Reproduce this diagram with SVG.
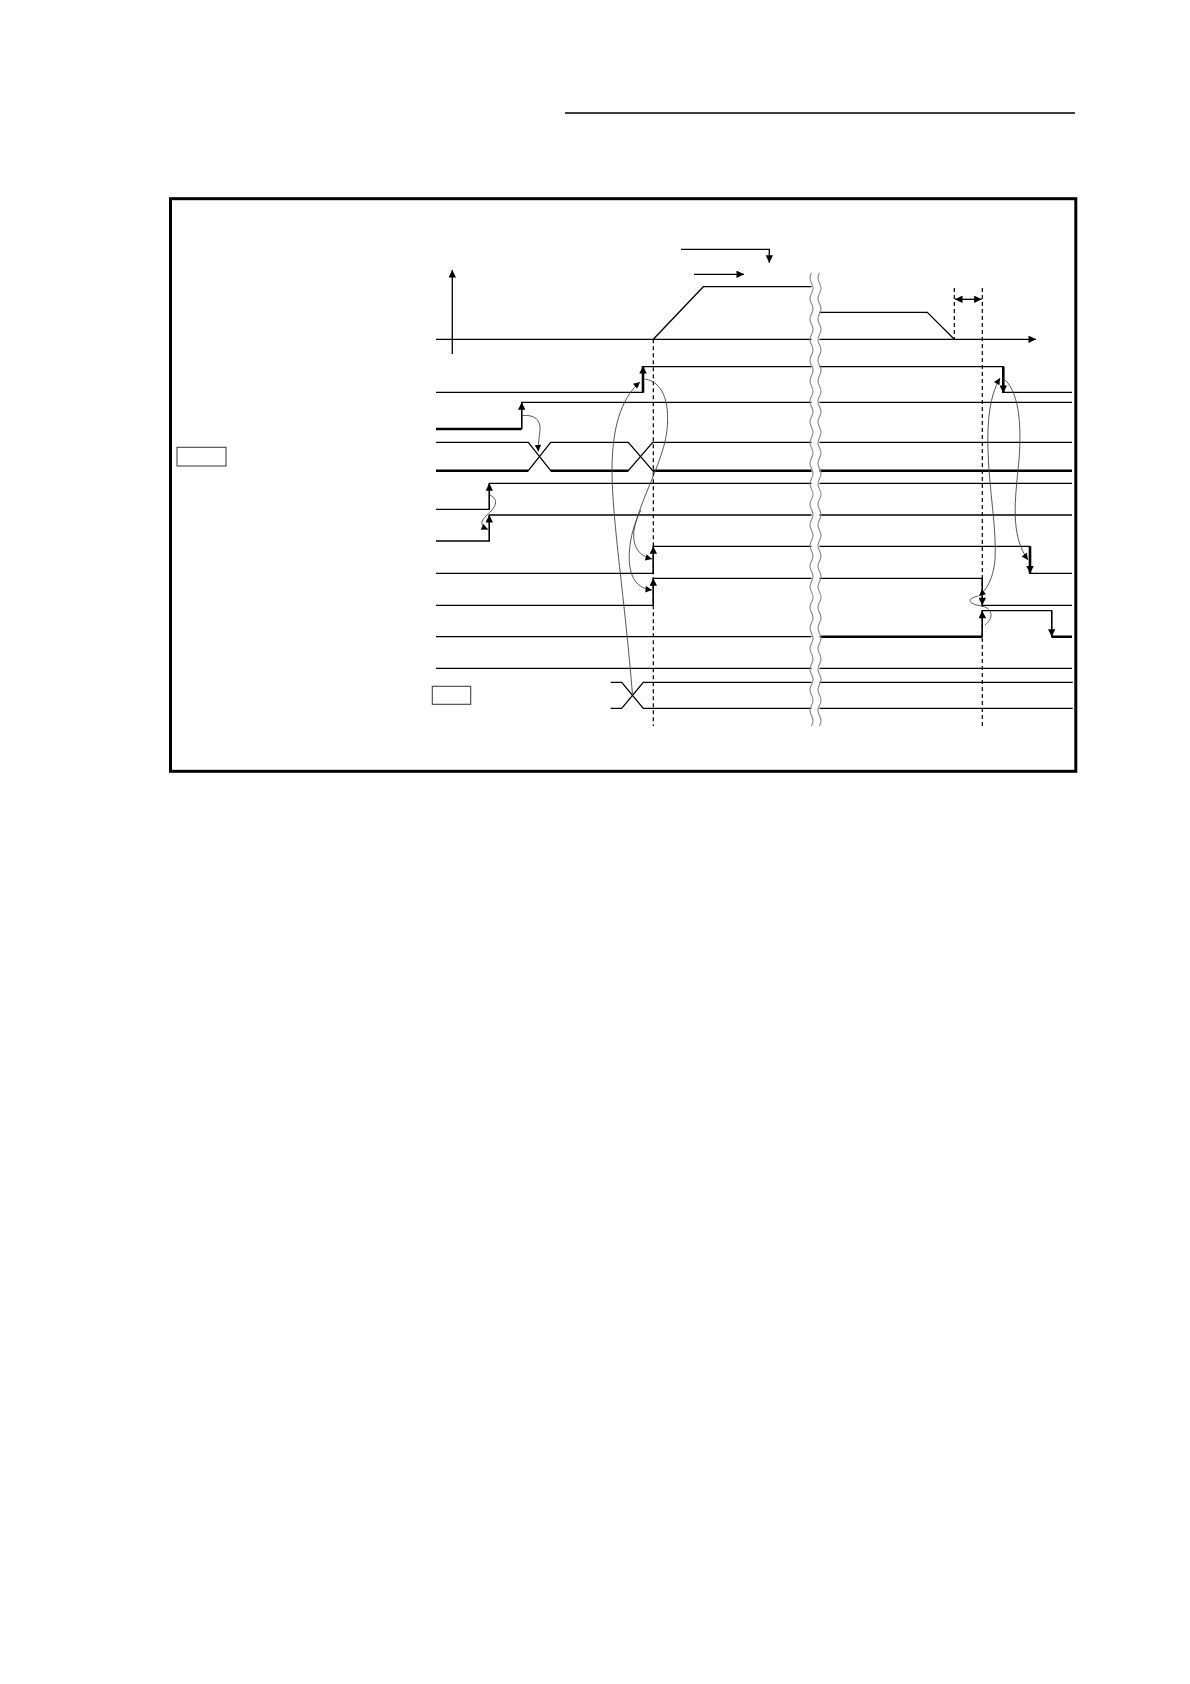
<svg xmlns="http://www.w3.org/2000/svg" xmlns:xlink="http://www.w3.org/1999/xlink" width="1190" height="1684" viewBox="0 0 1190 1684">
<style>
.sig{fill:none;stroke:#000;stroke-width:1.3}
.thk{fill:none;stroke:#000;stroke-width:2.6}
.ax{fill:none;stroke:#000;stroke-width:1.3}
.dash{fill:none;stroke:#000;stroke-width:1.2;stroke-dasharray:4 3}
.cur{fill:none;stroke:#444;stroke-width:0.9}
.wav{fill:none;stroke:#888;stroke-width:1.1}
.box{fill:#fff;stroke:#444;stroke-width:1.1}
</style>
<defs>
<marker id="ah" viewBox="0 0 10 10" refX="10" refY="5" markerWidth="10" markerHeight="7.5" markerUnits="userSpaceOnUse" orient="auto-start-reverse"><path d="M0,0 L10,5 L0,10 z" fill="#000"/></marker>
<marker id="ahs" viewBox="0 0 10 10" refX="10" refY="5" markerWidth="8" markerHeight="6.5" markerUnits="userSpaceOnUse" orient="auto-start-reverse"><path d="M0,0 L10,5 L0,10 z" fill="#000"/></marker>
<path id="wave" d="M0 272.7 q-3 5.15 0 10.3 t0 10.3 t0 10.3 t0 10.3 t0 10.3 t0 10.3 t0 10.3 t0 10.3 t0 10.3 t0 10.3 t0 10.3 t0 10.3 t0 10.3 t0 10.3 t0 10.3 t0 10.3 t0 10.3 t0 10.3 t0 10.3 t0 10.3 t0 10.3 t0 10.3 t0 10.3 t0 10.3 t0 10.3 t0 10.3 t0 10.3 t0 10.3 t0 10.3 t0 10.3 t0 10.3 t0 10.3 t0 10.3 t0 10.3 t0 10.3 t0 10.3 t0 10.3 t0 10.3 t0 10.3 t0 10.3 t0 10.3 t0 10.3 t0 10.3 t0 10.3"/>
</defs>
<rect width="1190" height="1684" fill="#fff"/>
<line id="header" x1="565" y1="113" x2="1075" y2="113" stroke="#000" stroke-width="1.3"/>
<rect id="frame" x="170.5" y="198.7" width="905.3" height="572.6" fill="none" stroke="#000" stroke-width="3"/>

<g id="speed">
<path class="ax" d="M452.3 354 V270" marker-end="url(#ah)"/>
<path class="ax" d="M436 339.3 H1036" marker-end="url(#ah)"/>
<polyline class="sig" points="653.3,339.3 703.3,286.7 812,286.7"/>
<polyline class="sig" points="819,312.3 927.3,312.3 954.3,339.3"/>
<path class="sig" d="M681 249.3 H769.3 V262.7" marker-end="url(#ah)"/>
<path class="sig" d="M694 274.3 H744" marker-end="url(#ah)"/>
<path class="sig" d="M955 299.3 H981.6" marker-start="url(#ah)" marker-end="url(#ah)"/>
</g>

<g id="guides">
<path class="dash" d="M653.3 339.3 V726"/>
<path class="dash" d="M954.3 288 V339.3"/>
<path class="dash" d="M982.3 288 V726"/>
</g>

<g id="rowA">
<path class="sig" d="M436 392.3 H643 V366.7 H1003.3 V392.3 H1072"/>
<path class="thk" d="M643 392.3 V366" marker-end="url(#ah)"/>
<path class="thk" d="M1003.3 366.7 V393" marker-end="url(#ah)"/>
</g>
<g id="rowB">
<path class="thk" d="M436 429 H521.7"/>
<path class="sig" d="M521.7 429 V402.3 H1072"/>
<path class="sig" d="M521.7 429 V402.3" marker-end="url(#ah)"/>
</g>
<g id="rowC">
<rect class="box" x="177" y="447.3" width="49" height="18.7"/>
<path class="sig" d="M436 442.3 H528.3 L550.7 470.7 H628.3 L652.7 442.3 H1072"/>
<path class="sig" d="M436 470.7 H528.3 L550.7 442.3 H628.3 L652.7 470.7 H1072"/>
<path class="thk" d="M436 470.7 H528.3 M550.7 470.7 H628.3 M652.7 470.7 H1072"/>
</g>
<g id="rowD">
<path class="sig" d="M436 509.3 H489.3 V483.3 H1072"/>
<path class="sig" d="M489.3 509.3 V483.3" marker-end="url(#ah)"/>
</g>
<g id="rowE">
<path class="sig" d="M436 541 H489.3 V515 H1072"/>
<path class="sig" d="M489.3 541 V515" marker-end="url(#ah)"/>
</g>
<g id="rowF">
<path class="sig" d="M436 573.3 H653.3 V546.3 H1030 V573.3 H1072"/>
<path class="sig" d="M653.3 573.3 V546.3" marker-end="url(#ah)"/>
<path class="thk" d="M1030 546.3 V573.5" marker-end="url(#ah)"/>
</g>
<g id="rowG">
<path class="sig" d="M436 605.3 H653.3 V578.3 H982.3 V605.3 H1072"/>
<path class="sig" d="M653.3 605.3 V578.3" marker-end="url(#ah)"/>
<path class="sig" d="M982.3 578.3 V605.3" marker-end="url(#ah)"/>
</g>
<g id="rowH">
<path class="sig" d="M436 636.7 H982.3 V610.7 H1051.7 V636.7 H1072"/>
<path class="thk" d="M821 636.7 H982.3 M1051.7 636.7 H1072"/>
<path class="sig" d="M982.3 636.7 V610.7" marker-end="url(#ah)"/>
<path class="sig" d="M1051.7 610.7 V636.7" marker-end="url(#ah)"/>
</g>
<g id="rowI">
<path class="sig" d="M436 668.3 H1072"/>
</g>
<g id="rowJ">
<rect class="box" x="432.3" y="686.3" width="38.4" height="18"/>
<path class="sig" d="M610.7 682.3 H621.7 L643.3 708.3 H1072.7"/>
<path class="sig" d="M610.7 708.3 H621.7 L643.3 682.3 H1072.7"/>
</g>

<g id="break">
<rect x="811.5" y="272.7" width="8" height="453.3" fill="#fff"/>
<use xlink:href="#wave" href="#wave" x="811.5" class="wav"/>
<use xlink:href="#wave" href="#wave" x="819.5" class="wav"/>
</g>

<g id="connectors">
<path class="cur" d="M632.5 695 C 625 600, 612 520, 612 470 C 612 420, 625 395, 640 382" marker-end="url(#ahs)"/>
<path class="cur" d="M645 379 C 662 382, 670 400, 667 430 C 664 460, 640 500, 634 530 C 632 548, 640 556, 652 559" marker-end="url(#ahs)"/>
<path class="cur" d="M641 510 C 630 530, 626 560, 632 575 C 636 585, 643 589, 652 590" marker-end="url(#ahs)"/>
<path class="cur" d="M522 415.7 C 534 414, 541 420, 540 430 C 539 440, 538 445, 538.3 451.5" marker-end="url(#ahs)"/>
<path class="cur" d="M490 495 C 500 500, 495 508, 487 515 C 480 521, 480 526, 488 529.5" marker-end="url(#ahs)"/>
<path class="cur" d="M1000 378 C 990 395, 987 420, 988 450 C 989 490, 997 530, 995 560 C 993 580, 986 590, 979 596" marker-start="url(#ahs)" marker-end="url(#ahs)"/>
<path class="cur" d="M1003 378 C 1018 390, 1022 420, 1019 460 C 1015 500, 1010 535, 1028 560" marker-end="url(#ahs)"/>
<path class="cur" d="M978 596 C 966 599, 968 604, 982 606 C 994 609, 993 619, 985 625"/>
</g>
</svg>
